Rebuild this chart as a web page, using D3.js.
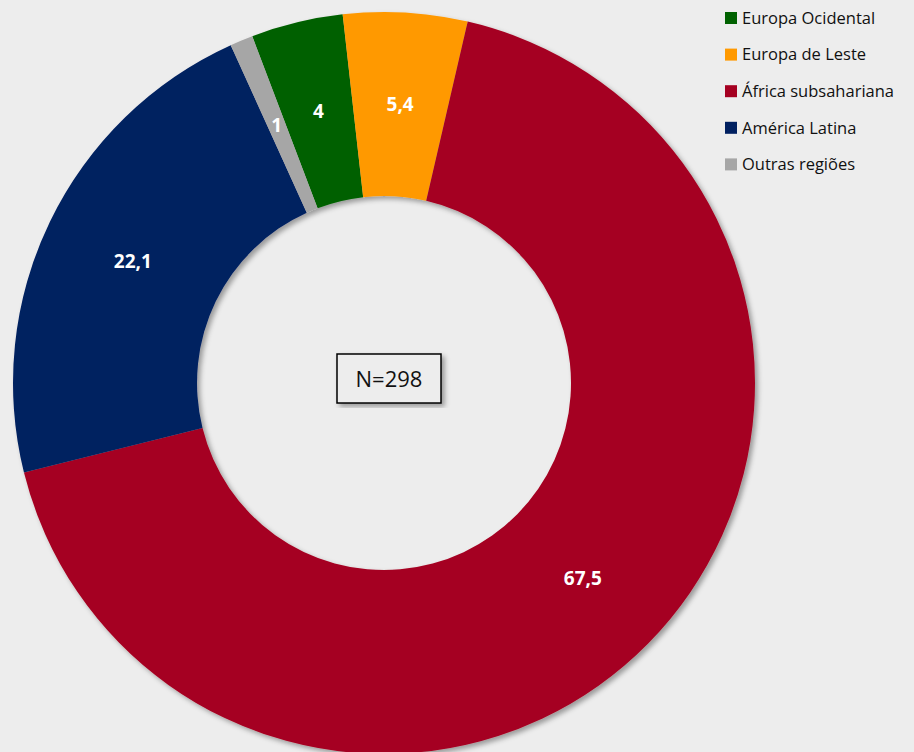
<!DOCTYPE html>
<html>
<head>
<meta charset="utf-8">
<script src="https://cdn.jsdelivr.net/npm/d3@7"></script>
<style>
  body { margin: 0; background: #ededed; }
  svg { display: block; }
</style>
</head>
<body>
<svg id="donut"></svg>
<script>
// data
const regions = ["Europa Ocidental", "Europa de Leste", "África subsahariana", "América Latina", "Outras regiões"];
const values = [4, 5.4, 67.5, 22.1, 1];
const colors = ["#006100", "#ff9900", "#a50021", "#002060", "#a6a6a6"];
const centerText = "N=298";

const W = 914, H = 752;
const cx = 384, cy = 383;
const rOut = 371, rIn = 187;
const font = "'Open Sans', Lato, sans-serif";

const svg = d3.select("#donut")
    .attr("width", W)
    .attr("height", H);

const defs = svg.append("defs");
const shadow = defs.append("filter")
    .attr("id", "shadow")
    .attr("x", "-10%").attr("y", "-10%")
    .attr("width", "120%").attr("height", "120%");
shadow.append("feDropShadow")
    .attr("dx", 3).attr("dy", 3)
    .attr("stdDeviation", 2.5)
    .attr("flood-color", "#000")
    .attr("flood-opacity", 0.35);

svg.append("rect")
    .attr("width", W).attr("height", H)
    .attr("fill", "#ededed");

const startDeg = -20.8;
const pie = d3.pie()
    .sort(null)
    .value(d => d)
    .startAngle(startDeg * Math.PI / 180)
    .endAngle((startDeg + 360) * Math.PI / 180);

const arc = d3.arc().innerRadius(rIn).outerRadius(rOut);
const arcs = pie(values);

const g = svg.append("g")
    .attr("transform", `translate(${cx},${cy})`);

g.append("g")
    .attr("filter", "url(#shadow)")
    .selectAll("path")
    .data(arcs)
    .enter()
    .append("path")
    .attr("d", arc)
    .attr("fill", (d, i) => colors[i]);

const fmt = v => String(v).replace(".", ",");

g.selectAll(".lbl")
    .data(arcs)
    .enter()
    .append("text")
    .attr("class", "lbl")
    .attr("transform", d => `translate(${arc.centroid(d)})`)
    .attr("text-anchor", "middle")
    .attr("dy", "0.35em")
    .attr("fill", "#fff")
    .style("font-family", font)
    .style("font-weight", 700)
    .style("font-size", "19px")
    .text(d => fmt(d.data));

// centre box
const box = svg.append("g");
box.append("rect")
    .attr("x", 337).attr("y", 354)
    .attr("width", 104).attr("height", 49)
    .attr("fill", "#ededed")
    .attr("stroke", "#000")
    .attr("stroke-width", 1.5)
    .attr("filter", "url(#shadow)");
box.append("text")
    .attr("x", 389).attr("y", 379)
    .attr("dy", "0.35em")
    .attr("text-anchor", "middle")
    .attr("fill", "#111")
    .style("font-family", font)
    .style("font-size", "22px")
    .text(centerText);

// legend
const legend = svg.append("g")
    .attr("transform", "translate(725,18)");
const item = legend.selectAll(".item")
    .data(regions)
    .enter()
    .append("g")
    .attr("class", "item")
    .attr("transform", (d, i) => `translate(0,${i * 36.6})`);
item.append("rect")
    .attr("x", 0).attr("y", -6)
    .attr("width", 12).attr("height", 12)
    .attr("fill", (d, i) => colors[i]);
item.append("text")
    .attr("x", 17)
    .attr("dy", "0.35em")
    .attr("fill", "#111")
    .style("font-family", font)
    .style("font-size", "16.5px")
    .text(d => d);
</script>
</body>
</html>
